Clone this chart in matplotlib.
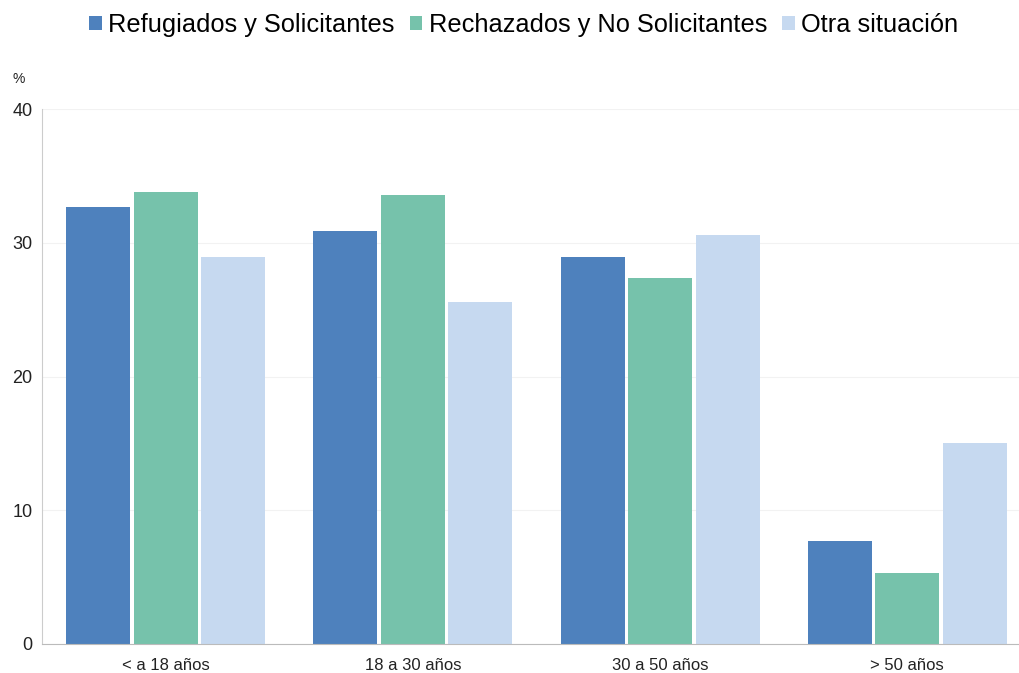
import matplotlib
matplotlib.use("Agg")
import matplotlib.pyplot as plt
import numpy as np

# ---- data ----
categories = ["< a 18 años", "18 a 30 años", "30 a 50 años", "> 50 años"]
series_names = ["Refugiados y Solicitantes", "Rechazados y No Solicitantes", "Otra situación"]
refugiados = [32.7, 30.9, 28.9, 7.7]
rechazados = [33.8, 33.6, 27.4, 5.3]
otra = [28.9, 25.6, 30.6, 15.0]
colors = ["#4E81BD", "#76C2AB", "#C6D9F0"]
yticks = [0, 10, 20, 30, 40]

plt.rcParams['font.family'] = ['Liberation Sans', 'DejaVu Sans']

fig = plt.figure(figsize=(10.19, 6.73), dpi=100)
# plot area runs a bit past the right edge of the figure, as in the original
ax = fig.add_axes([42 / 1019, 1 - 644 / 673, (1031 - 42) / 1019, (644 - 109) / 673])

x = np.arange(len(categories))
w = 0.259
step = 0.273
for i, (vals, name) in enumerate(zip([refugiados, rechazados, otra], series_names)):
    ax.bar(x + (i - 1) * step, vals, width=w, color=colors[i], label=name, zorder=2)

ax.set_xlim(-0.5, len(categories) - 0.5)
ax.set_ylim(0, 40)
ax.set_yticks(yticks)
ax.set_xticks(x)
ax.set_xticklabels(categories)
ax.tick_params(axis='both', length=0, labelsize=12, colors="#222222")
ax.tick_params(axis='x', pad=10)
ax.tick_params(axis='y', pad=7, labelsize=13)
ax.grid(axis='y', color="#f2f2f2", linewidth=0.8, zorder=0)

for s in ["top", "right"]:
    ax.spines[s].set_visible(False)
ax.spines["left"].set_color("#cccccc")
ax.spines["bottom"].set_color("#bbbbbb")

fig.text(19 / 1019, 1 - 79 / 673, "%", fontsize=10, ha="center", va="center", color="#222222")

fig.legend(loc="upper center", bbox_to_anchor=(0.514, 1.015), ncol=3, frameon=False,
           fontsize=18.3, handlelength=0.5, handleheight=0.5, handletextpad=0.25,
           columnspacing=0.6)

fig.savefig("out.png", dpi=100)
